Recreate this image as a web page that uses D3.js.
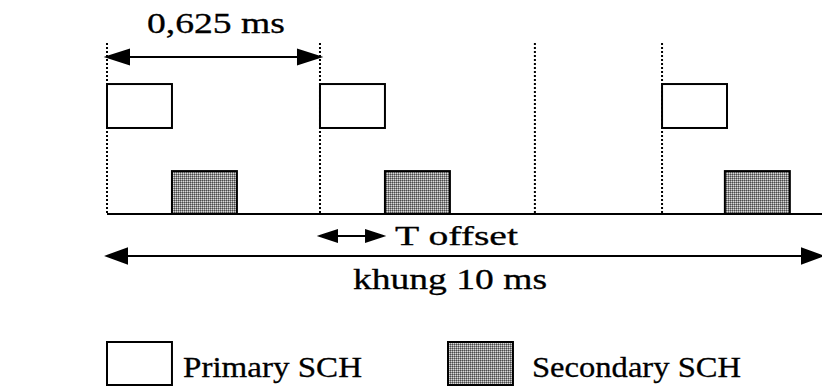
<!DOCTYPE html>
<html>
<head>
<meta charset="utf-8">
<script src="https://cdn.jsdelivr.net/npm/d3@7"></script>
<style>
  html, body { margin: 0; padding: 0; background: #fff; }
  svg { display: block; }
  text { font-family: "Liberation Serif", "Times New Roman", Times, serif; fill: #000; stroke: #000; stroke-width: 0.3; }
  path.head { fill: #000 !important; stroke: #000; stroke-width: 3px; stroke-linejoin: miter; }
</style>
</head>
<body>
<svg id="chart" width="822" height="386"></svg>
<script>
// ---- data (time in slot units, 1 slot = 0.625 ms; schematic) ----
const slotBoundaries = [0, 1, 2.009, 2.606];
const primarySCH = [0, 1, 2.606];
const secondarySCH = [0.305, 1.305, 2.901];
const schWidth = 0.305;
const tOffset = [1, 1.296];
const slotSpan = [0, 1];
const frameSpan = [0, 3.357];
const labels = {
  slot: "0,625 ms",
  offset: "T offset",
  frame: "khung 10 ms",
  primary: "Primary SCH",
  secondary: "Secondary SCH"
};
const legendItems = ["primary", "secondary"];

// ---- layout ----
const svg = d3.select("#chart");
const x = d3.scaleLinear().domain(frameSpan).range([107, 822]);
const y = d3.scaleLinear().domain([0, 1]).range([214, 43]);
const primaryLevels = [0.503, 0.76];
const secondaryLevels = [0, 0.251];

const defs = svg.append("defs");
const pat = defs.append("pattern").attr("id", "dots")
  .attr("width", 2).attr("height", 2).attr("patternUnits", "userSpaceOnUse");
pat.append("rect").attr("width", 2).attr("height", 2).attr("fill", "#8c8c8c");
pat.append("rect").attr("x", 0).attr("y", 0).attr("width", 1).attr("height", 1).attr("fill", "#4a4a4a");
pat.append("rect").attr("x", 1).attr("y", 1).attr("width", 1).attr("height", 1).attr("fill", "#d8d8d8");

// dotted slot boundaries
svg.selectAll("line.slot").data(slotBoundaries).join("line")
  .attr("class", "slot")
  .attr("x1", d => x(d)).attr("x2", d => x(d))
  .attr("y1", y(1)).attr("y2", y(0))
  .attr("stroke", "#000").attr("stroke-width", 2)
  .attr("stroke-dasharray", "2,2");

// baseline
svg.append("line")
  .attr("x1", x(frameSpan[0])).attr("x2", x(frameSpan[1]))
  .attr("y1", y(0)).attr("y2", y(0))
  .attr("stroke", "#000").attr("stroke-width", 2);

// primary SCH boxes
svg.selectAll("rect.prim").data(primarySCH).join("rect")
  .attr("class", "prim")
  .attr("x", d => x(d)).attr("width", d => x(d + schWidth) - x(d))
  .attr("y", y(primaryLevels[1])).attr("height", y(primaryLevels[0]) - y(primaryLevels[1]))
  .attr("fill", "#fff").attr("stroke", "#000").attr("stroke-width", 2);

// secondary SCH boxes
svg.selectAll("rect.sec").data(secondarySCH).join("rect")
  .attr("class", "sec")
  .attr("x", d => x(d)).attr("width", d => x(d + schWidth) - x(d))
  .attr("y", y(secondaryLevels[1])).attr("height", y(secondaryLevels[0]) - y(secondaryLevels[1]))
  .attr("fill", "url(#dots)").attr("stroke", "#000").attr("stroke-width", 2);

// double arrow helper (filled triangular heads)
function dblArrow(x1, x2, yy, headLen, headHalf) {
  const g = svg.append("g");
  g.append("line").attr("x1", x1).attr("x2", x2).attr("y1", yy).attr("y2", yy)
    .attr("stroke", "#000").attr("stroke-width", 2);
  const a = x1 + 1.5, b = x2 - 1.5;
  const heads = [
    `M${a},${yy}L${a + headLen},${yy - headHalf}L${a + headLen},${yy + headHalf}Z`,
    `M${b},${yy}L${b - headLen},${yy - headHalf}L${b - headLen},${yy + headHalf}Z`
  ];
  g.selectAll("path.head").data(heads).join("path")
    .attr("class", "head").attr("d", d => d);
  return g;
}

dblArrow(x(slotSpan[0]), x(slotSpan[1]), 57, 20, 6.5);
dblArrow(x(tOffset[0]), x(tOffset[1]), 236, 15, 5);
dblArrow(x(frameSpan[0]), x(frameSpan[1]), 256, 18, 6.5);

function label(txt, x0, x1, baseline, size) {
  svg.append("text").text(txt)
    .attr("x", x0).attr("y", baseline)
    .attr("font-size", size)
    .attr("textLength", x1 - x0)
    .attr("lengthAdjust", "spacingAndGlyphs");
}
label(labels.slot, 147, 285, 33, 29);
label(labels.offset, 395, 518, 245, 27);
label(labels.frame, 353, 547, 289, 30);

// legend
const legendX = [107, 448];
const legendTextX = [[183, 362], [532, 741]];
legendItems.forEach((k, i) => {
  svg.append("rect")
    .attr("x", legendX[i]).attr("y", 342)
    .attr("width", x(schWidth) - x(0)).attr("height", 43)
    .attr("fill", k === "primary" ? "#fff" : "url(#dots)")
    .attr("stroke", "#000").attr("stroke-width", 2);
  label(labels[k], legendTextX[i][0], legendTextX[i][1], 377, 30);
});
</script>
</body>
</html>
